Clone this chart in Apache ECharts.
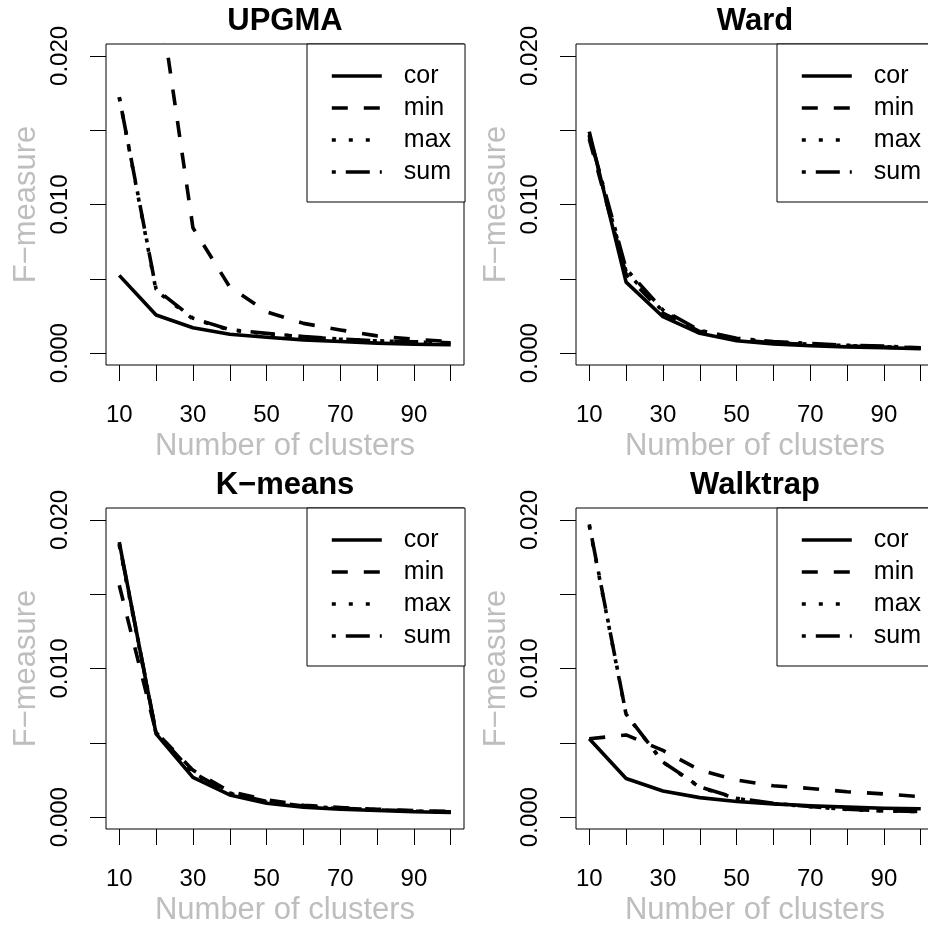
<!DOCTYPE html>
<html>
<head>
<meta charset="utf-8">
<script src="https://cdn.jsdelivr.net/npm/echarts@6/dist/echarts.min.js"></script>
<style>
  html, body { margin: 0; padding: 0; background: #fff; }
  #chart { width: 928px; height: 926px; }
</style>
</head>
<body>
<div id="chart"></div>
<script>
// x values and tick positions
var clusters = [10, 20, 30, 40, 50, 60, 70, 80, 90, 100];
var xTicks = [10, 20, 30, 40, 50, 60, 70, 80, 90, 100];
var xLabels = [10, 30, 50, 70, 90];
var yTicks = [0, 0.005, 0.01, 0.015, 0.02];
var yLabels = [0, 0.01, 0.02];
var methods = ['cor', 'min', 'max', 'sum'];
var panelTitles = ['UPGMA', 'Ward', 'K\u2212means', 'Walktrap'];

// UPGMA
var upgmaCor = [0.00523, 0.00256, 0.00171, 0.00127, 0.00107, 0.00089, 0.00078, 0.00067, 0.0006, 0.00056];
var upgmaMin = [0.0455, 0.0255, 0.00844, 0.00445, 0.00278, 0.0020, 0.00156, 0.00116, 0.00093, 0.00078];
var upgmaMax = [0.0172, 0.0042, 0.0023, 0.00155, 0.0013, 0.0011, 0.00093, 0.00082, 0.00075, 0.00069];
var upgmaSum = [0.01723, 0.0043, 0.00235, 0.00158, 0.00133, 0.00111, 0.00094, 0.00083, 0.00076, 0.0007];
// Ward
var wardCor = [0.0149, 0.00478, 0.00245, 0.00133, 0.00083, 0.00062, 0.0005, 0.00042, 0.00036, 0.0003];
var wardMin = [0.0144, 0.0053, 0.0027, 0.00145, 0.0009, 0.0007, 0.00058, 0.00048, 0.0004, 0.00034];
var wardMax = [0.0146, 0.0055, 0.0028, 0.0015, 0.00095, 0.00074, 0.0006, 0.0005, 0.00043, 0.00035];
var wardSum = [0.0147, 0.00567, 0.0029, 0.00153, 0.001, 0.00078, 0.00065, 0.00053, 0.00047, 0.00036];
// K-means
var kmCor = [0.0185, 0.0056, 0.00267, 0.00149, 0.00093, 0.00067, 0.00053, 0.00044, 0.00036, 0.00031];
var kmMin = [0.0156, 0.0057, 0.00316, 0.00171, 0.00116, 0.0008, 0.00064, 0.00053, 0.00044, 0.00038];
var kmMax = [0.0183, 0.0056, 0.0029, 0.0016, 0.001, 0.00072, 0.00058, 0.00048, 0.0004, 0.00034];
var kmSum = [0.0184, 0.0057, 0.003, 0.00162, 0.00105, 0.00075, 0.0006, 0.0005, 0.00041, 0.00035];
// Walktrap
var wtCor = [0.00527, 0.0026, 0.00176, 0.00131, 0.00105, 0.00089, 0.00076, 0.00067, 0.0006, 0.00056];
var wtMin = [0.00527, 0.00553, 0.00449, 0.00316, 0.00249, 0.00211, 0.00193, 0.00171, 0.00156, 0.00138];
var wtMax = [0.0196, 0.0069, 0.0037, 0.002, 0.00125, 0.0009, 0.0007, 0.00052, 0.00041, 0.00037];
var wtSum = [0.0197, 0.00693, 0.00371, 0.00204, 0.00127, 0.00093, 0.00071, 0.00053, 0.00042, 0.00038];

var panelData = [
  [upgmaCor, upgmaMin, upgmaMax, upgmaSum],
  [wardCor, wardMin, wardMax, wardSum],
  [kmCor, kmMin, kmMax, kmSum],
  [wtCor, wtMin, wtMax, wtSum]
];

var font = '"Liberation Sans", Arial, Helvetica, sans-serif';
var lineW = 3.6;
var dashes = { cor: 'solid', min: [16, 16], max: [4, 13], sum: [4, 10, 24, 10] };
var boxes = [
  { left: 106, top: 44 }, { left: 576, top: 44 },
  { left: 106, top: 508 }, { left: 576, top: 508 }
];
var gw = 358, gh = 321;

function pts(ys) {
  return clusters.map(function (c, i) { return [c, ys[i]]; });
}

var grids = [], xAxes = [], yAxes = [], titles = [], legends = [], series = [];
boxes.forEach(function (b, p) {
  grids.push({
    left: b.left, top: b.top, width: gw, height: gh,
    show: true, borderColor: '#000', borderWidth: 1, backgroundColor: 'transparent',
    outerBoundsMode: 'none', containLabel: false
  });
  xAxes.push({
    gridIndex: p, type: 'value', min: 6.4, max: 103.6,
    axisLine: { show: false, onZero: false },
    axisTick: { show: true, length: 16, customValues: xTicks, lineStyle: { color: '#000', width: 1 } },
    axisLabel: { customValues: xLabels, margin: 38, fontSize: 24, color: '#000', fontFamily: font },
    splitLine: { show: false },
    name: 'Number of clusters', nameLocation: 'middle', nameGap: 65.5,
    nameTextStyle: { fontSize: 31, color: '#bebebe', fontFamily: font }
  });
  yAxes.push({
    gridIndex: p, type: 'value', min: -0.0008, max: 0.0208,
    axisLine: { show: false, onZero: false },
    axisTick: { show: true, length: 16, customValues: yTicks, lineStyle: { color: '#000', width: 1 } },
    axisLabel: {
      customValues: yLabels, rotate: 90, margin: 34, fontSize: 24, color: '#000', fontFamily: font,
      formatter: function (v) { return Number(v).toFixed(3); }
    },
    splitLine: { show: false },
    name: 'F\u2212measure', nameLocation: 'middle', nameGap: 64.5,
    nameTextStyle: { fontSize: 31, color: '#bebebe', fontFamily: font }
  });
  titles.push({
    text: panelTitles[p], left: b.left + gw / 2, top: b.top - 38.5, textAlign: 'center', padding: 0,
    textStyle: { fontSize: 31, fontWeight: 'bold', color: '#000', fontFamily: font }
  });
  legends.push({
    left: b.left + 201, top: b.top, orient: 'vertical', data: methods,
    itemWidth: 50, itemHeight: 14, itemGap: 0, padding: [16, 14, 14, 23],
    borderColor: '#000', borderWidth: 1, borderRadius: 0, backgroundColor: '#fff',
    selectedMode: false,
    itemStyle: { opacity: 0 },
    lineStyle: { width: lineW },
    textStyle: { fontSize: 25, lineHeight: 32, color: '#000', fontFamily: font, padding: [0, 0, 0, 17] }
  });
  methods.forEach(function (m, k) {
    series.push({
      name: m, type: 'line', xAxisIndex: p, yAxisIndex: p,
      data: pts(panelData[p][k]),
      symbol: 'none', clip: true, animation: false,
      lineStyle: { color: '#000', width: lineW, type: dashes[m], cap: 'butt', join: 'round' },
      emphasis: { disabled: true }
    });
  });
});

var chart = echarts.init(document.getElementById('chart'), null, { renderer: 'canvas' });
chart.setOption({
  animation: false,
  backgroundColor: '#fff',
  textStyle: { fontFamily: font },
  title: titles,
  legend: legends,
  grid: grids,
  xAxis: xAxes,
  yAxis: yAxes,
  tooltip: { show: false },
  series: series
});
</script>
</body>
</html>
